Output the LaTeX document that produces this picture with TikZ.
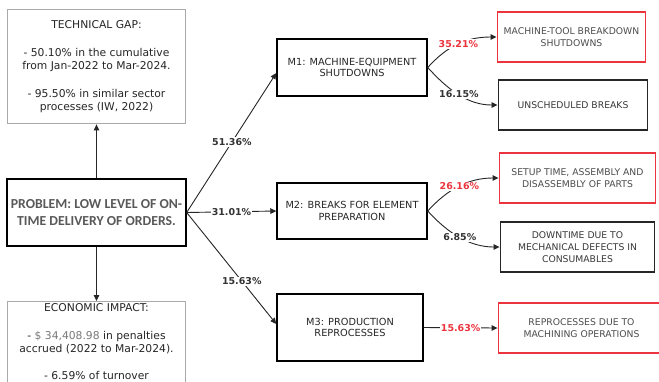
\documentclass[tikz,border=0pt]{standalone}
\usepackage{fontspec}
\setmainfont{DejaVu Sans}
\newfontfamily\calfont{Carlito}
\usetikzlibrary{arrows.meta}
\definecolor{myred}{RGB}{236,52,62}
\definecolor{boxgray}{RGB}{170,170,170}
\definecolor{probtext}{RGB}{89,89,89}
\definecolor{dimtext}{RGB}{120,120,120}
\begin{document}
\begin{tikzpicture}[x=1bp,y=-1bp,
  box/.style={draw, inner sep=0pt, align=center},
  graybox/.style={box, draw=boxgray, line width=1.2bp},
  graytext/.style={inner sep=0pt, align=center, text=black!85, font=\fontsize{10.8}{13.2}\selectfont},
  mbox/.style={box, draw=black, line width=2bp, text=black!85, font=\fontsize{9.8}{11.7}\selectfont},
  redbox/.style={box, draw=myred, line width=1.5bp, text=black!70, font=\fontsize{9.3}{12.3}\selectfont},
  blkbox/.style={box, draw=black!85, line width=1.5bp, text=black!78, font=\fontsize{9.3}{12.3}\selectfont},
  conn/.style={draw=black!85, line width=0.9bp, -{Triangle[length=6bp,width=5.5bp]}},
  pct/.style={fill=white, inner sep=1bp, font=\bfseries\fontsize{9.5}{11}\selectfont, text=black!80},
  redpct/.style={pct, text=myred}]
\useasboundingbox (0,0) rectangle (659,381);
\fill[white] (0,0) rectangle (659,381);

% left column
\node[graybox, graytext, minimum width=179, minimum height=115] (tech) at (96.5,66.5)
  {TECHNICAL GAP:\\[15bp] - 50.10\% in the cumulative\\ from Jan-2022 to Mar-2024.\\[15bp] - 95.50\% in similar sector\\ processes (IW, 2022)};
\node[box, draw=black, line width=2bp, minimum width=179, minimum height=67,
  font=\calfont\bfseries\fontsize{13.8}{17}\selectfont, text=probtext] (prob) at (96.5,212.5)
  {PROBLEM: LOW LEVEL OF ON-\\TIME DELIVERY OF ORDERS.};
\node[graybox, minimum width=179, minimum height=110, anchor=north] (econ) at (96.5,301) {};
\node[graytext] (econtxt) at (96.5,341.5)
  {ECONOMIC IMPACT:\\[15bp] - \textcolor{dimtext}{\$ 34,408.98} in penalties\\ accrued (2022 to Mar-2024).\\[14bp] - 6.59\% of turnover};

% middle column
\node[mbox, minimum width=150, minimum height=57] (M1) at (352,67.5) {M1: MACHINE-EQUIPMENT\\SHUTDOWNS};
\node[mbox, minimum width=150, minimum height=56] (M2) at (352,211) {M2: BREAKS FOR ELEMENT\\PREPARATION};
\node[mbox, minimum width=146, minimum height=67] (M3) at (350,327.5) {M3: PRODUCTION\\REPROCESSES};

% right column
\node[redbox, minimum width=149, minimum height=50] (R1) at (571.5,37) {MACHINE-TOOL BREAKDOWN\\SHUTDOWNS};
\node[blkbox, minimum width=150, minimum height=50] (B1) at (573,105) {UNSCHEDULED BREAKS};
\node[redbox, minimum width=157, minimum height=50] (R2) at (577.5,178) {SETUP TIME, ASSEMBLY AND\\DISASSEMBLY OF PARTS};
\node[blkbox, minimum width=155, minimum height=50] (B2) at (577.5,247) {DOWNTIME DUE TO\\MECHANICAL DEFECTS IN\\CONSUMABLES};
\node[redbox, minimum width=167, minimum height=50] (R3) at (581.5,328) {REPROCESSES DUE TO\\MACHINING OPERATIONS};

% connectors
\draw[conn] (prob.north) -- (tech.south);
\draw[conn] (prob.south) -- (econ.north);
\draw[conn] (prob.east) -- node[pct, pos=0.505]{51.36\%} ([yshift=-5.5bp]M1.west);
\draw[conn] (prob.east) -- node[pct]{31.01\%} (M2.west);
\draw[conn] (prob.east) -- node[pct, pos=0.615]{15.63\%} ([yshift=3.5bp]M3.west);

\draw[conn] (M1.east) .. controls +(20,-22) and +(-30,0) .. (R1.west) node[redpct, pos=0.5]{35.21\%};
\draw[conn] (M1.east) .. controls +(20,22) and +(-30,0) .. (B1.west) node[pct, pos=0.5]{16.15\%};
\draw[conn] (M2.east) .. controls +(20,-22) and +(-30,0) .. (R2.west) node[redpct, pos=0.5]{26.16\%};
\draw[conn] (M2.east) .. controls +(20,22) and +(-30,0) .. (B2.west) node[pct, pos=0.5]{6.85\%};
\draw[conn] (M3.east) -- node[redpct]{15.63\%} (R3.west);
\end{tikzpicture}
\end{document}
